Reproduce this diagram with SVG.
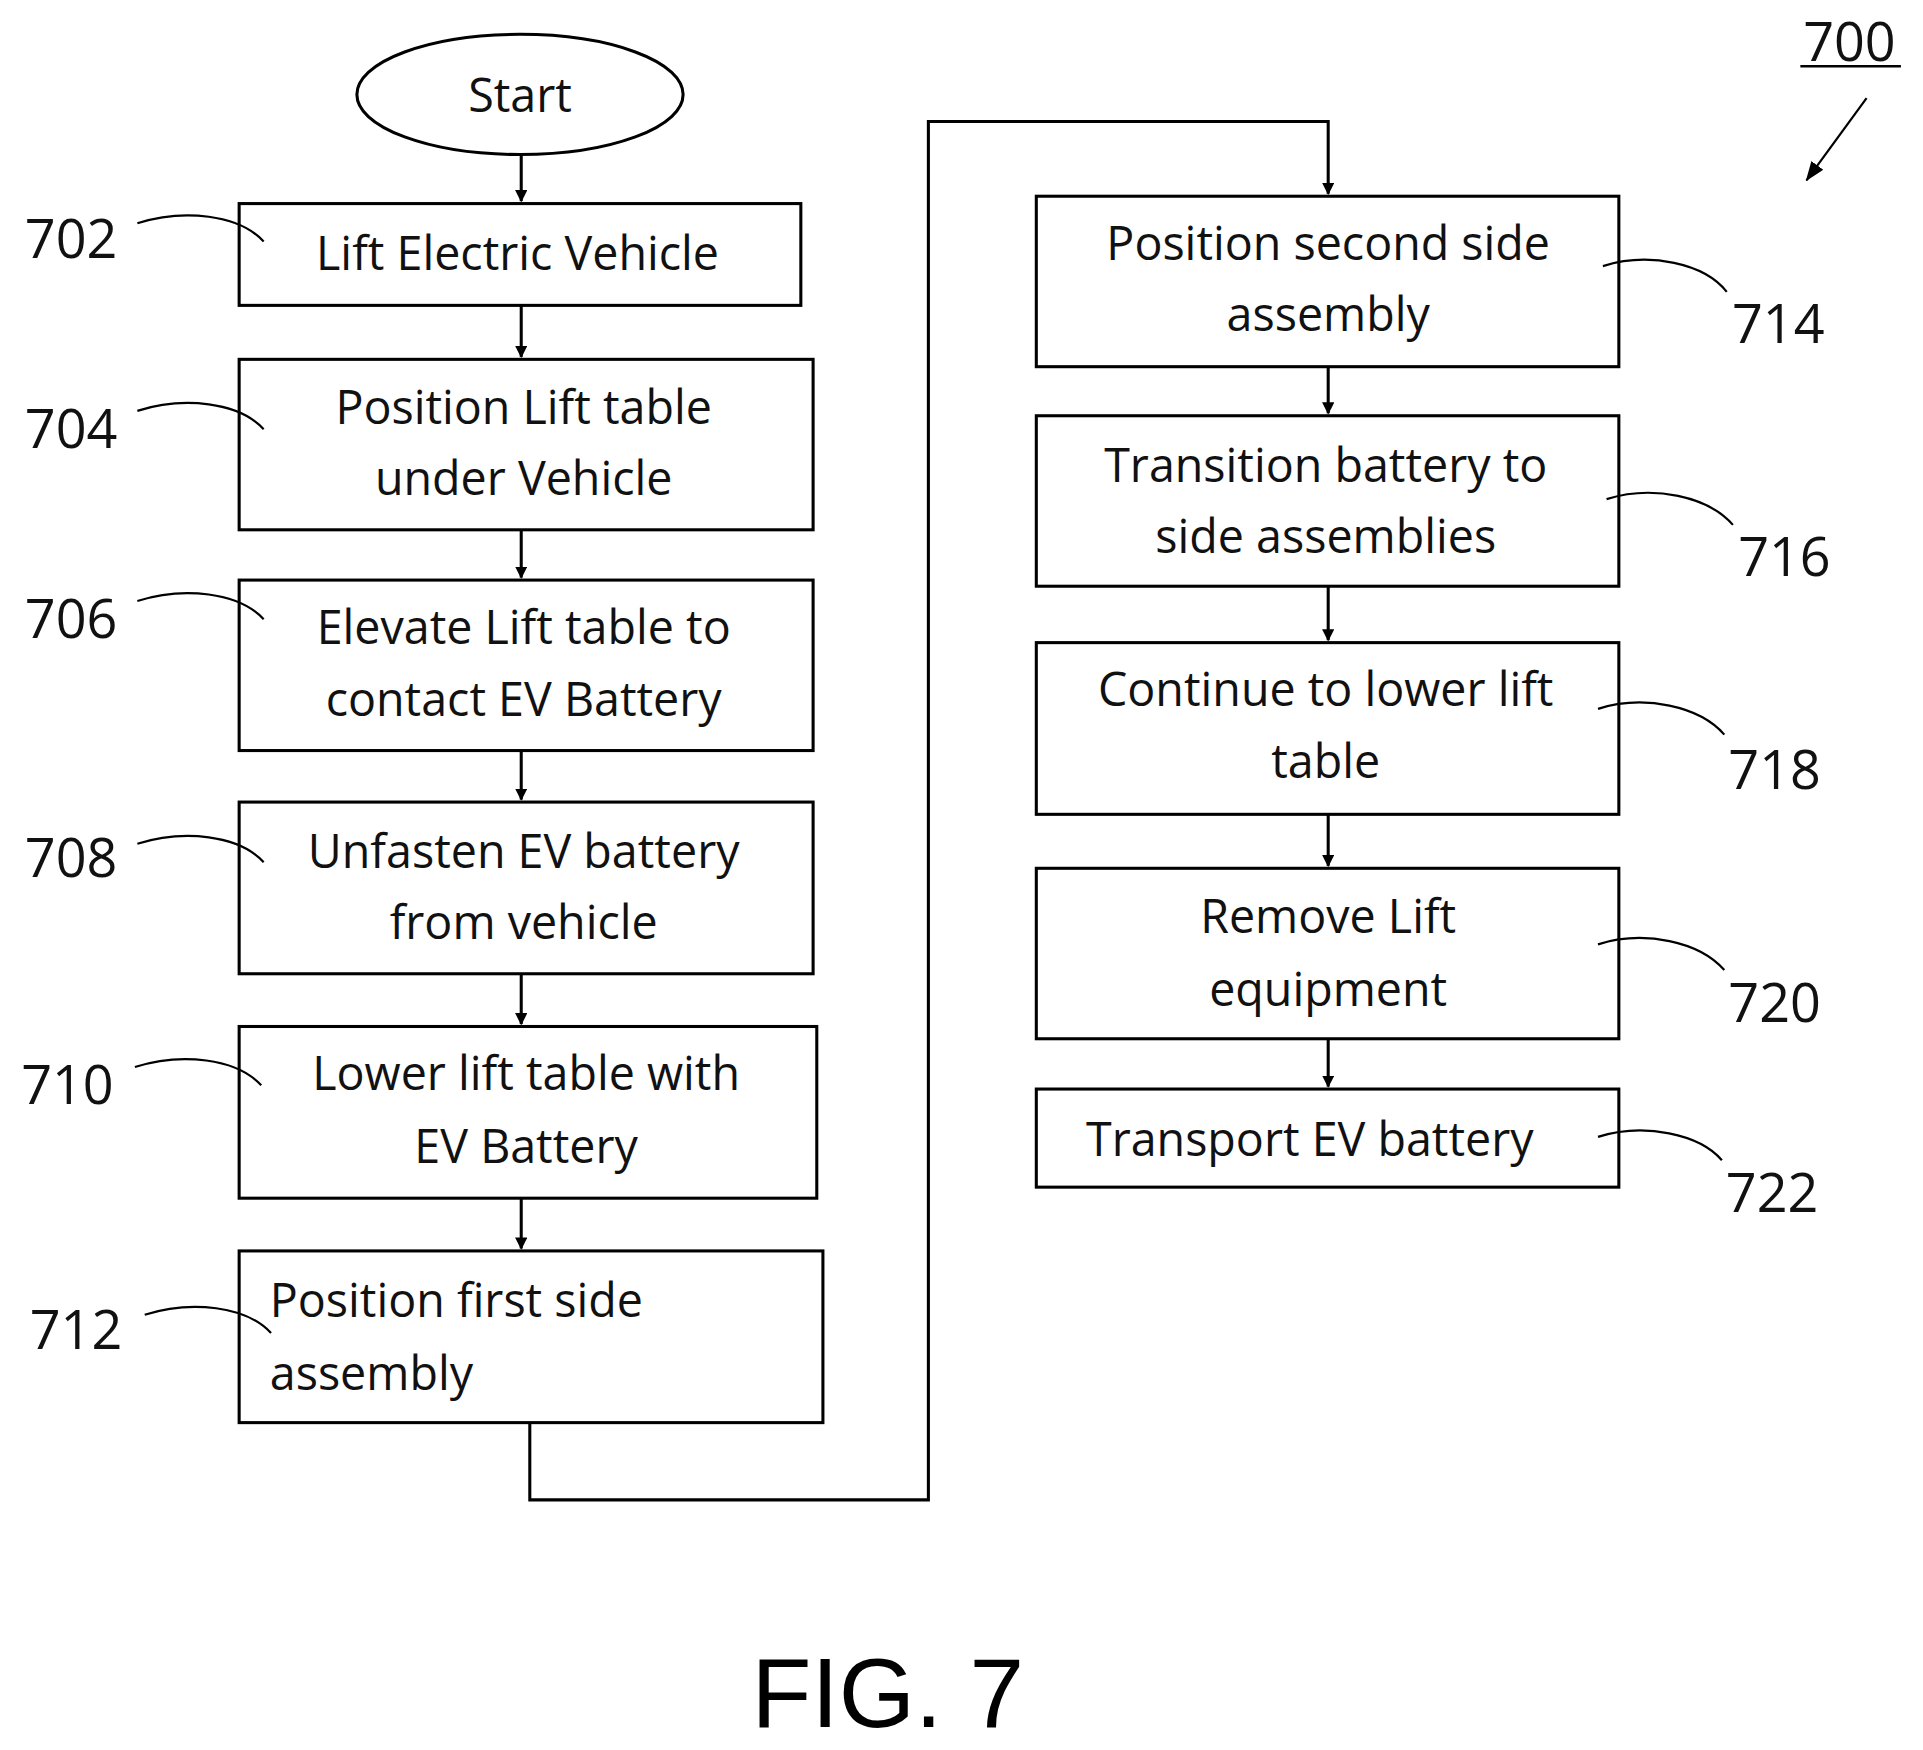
<svg xmlns="http://www.w3.org/2000/svg" width="1923" height="1750" viewBox="0 0 1923 1750">
<style>
.b{fill:#fff;stroke:#000;stroke-width:2.5}
.t{font-family:"Open Sans","Liberation Sans",sans-serif;font-size:38px;text-anchor:middle;fill:#111}
.l{font-family:"Open Sans","Liberation Sans",sans-serif;font-size:44px;text-anchor:middle;fill:#111}
.c{fill:none;stroke:#000;stroke-width:2.5}
.q{fill:none;stroke:#000;stroke-width:1.8}
</style>
<defs><marker id="a" markerWidth="10" markerHeight="10" refX="9" refY="5" orient="auto" markerUnits="userSpaceOnUse" viewBox="0 0 10 10"><path d="M0,0L10,5L0,10z" fill="#000"/></marker>
<marker id="m" markerWidth="16" markerHeight="16" refX="15" refY="8" orient="auto" markerUnits="userSpaceOnUse" viewBox="0 0 16 16"><path d="M0,2L16,8L0,14z" fill="#000"/></marker></defs>
<rect width="1923" height="1750" fill="#fff"/>
<g transform="scale(1.2264)">
<g id="start"><ellipse cx="424" cy="77" rx="133" ry="49" class="b"/><text class="t" x="424" y="91">Start</text></g>
<g id="n702"><rect class="b" x="195" y="166" width="458" height="83"/><text class="t" x="422" y="220">Lift Electric Vehicle</text></g>
<g id="n704"><rect class="b" x="195" y="293" width="468" height="139"/><text class="t" x="427" y="346">Position Lift table</text><text class="t" x="427" y="404">under Vehicle</text></g>
<g id="n706"><rect class="b" x="195" y="473" width="468" height="139"/><text class="t" x="427" y="525">Elevate Lift table to</text><text class="t" x="427" y="584">contact EV Battery</text></g>
<g id="n708"><rect class="b" x="195" y="654" width="468" height="140"/><text class="t" x="427" y="708">Unfasten EV battery</text><text class="t" x="427" y="766">from vehicle</text></g>
<g id="n710"><rect class="b" x="195" y="837" width="471" height="140"/><text class="t" x="429" y="889">Lower lift table with</text><text class="t" x="429" y="948">EV Battery</text></g>
<g id="n712"><rect class="b" x="195" y="1020" width="476" height="140"/><text class="t" x="220" y="1074" style="text-anchor:start">Position first side</text><text class="t" x="220" y="1133" style="text-anchor:start">assembly</text></g>
<g id="n714"><rect class="b" x="845" y="160" width="475" height="139"/><text class="t" x="1083" y="212">Position second side</text><text class="t" x="1083" y="270">assembly</text></g>
<g id="n716"><rect class="b" x="845" y="339" width="475" height="139"/><text class="t" x="1081" y="393">Transition battery to</text><text class="t" x="1081" y="451">side assemblies</text></g>
<g id="n718"><rect class="b" x="845" y="524" width="475" height="140"/><text class="t" x="1081" y="576">Continue to lower lift</text><text class="t" x="1081" y="634">table</text></g>
<g id="n720"><rect class="b" x="845" y="708" width="475" height="139"/><text class="t" x="1083" y="761">Remove Lift</text><text class="t" x="1083" y="820">equipment</text></g>
<g id="n722"><rect class="b" x="845" y="888" width="475" height="80"/><text class="t" x="1068" y="943">Transport EV battery</text></g>
<g id="connectors">
<path class="c" marker-end="url(#a)" d="M425,127V164"/>
<path class="c" marker-end="url(#a)" d="M425,249V291"/>
<path class="c" marker-end="url(#a)" d="M425,432V471"/>
<path class="c" marker-end="url(#a)" d="M425,612V652"/>
<path class="c" marker-end="url(#a)" d="M425,794V835"/>
<path class="c" marker-end="url(#a)" d="M425,977V1018"/>
<path class="c" marker-end="url(#a)" d="M432,1160V1223H757V99H1083V158"/>
<path class="c" marker-end="url(#a)" d="M1083,299V337"/>
<path class="c" marker-end="url(#a)" d="M1083,478V522"/>
<path class="c" marker-end="url(#a)" d="M1083,664V706"/>
<path class="c" marker-end="url(#a)" d="M1083,847V886"/>
</g>
<g id="labels">
<text class="l" x="58" y="210">702</text><path class="q" d="M112,182C150,170 195,175 215,197"/>
<text class="l" x="58" y="365">704</text><path class="q" d="M112,335C150,323 195,328 215,350"/>
<text class="l" x="58" y="520">706</text><path class="q" d="M112,490C150,478 195,483 215,505"/>
<text class="l" x="58" y="715">708</text><path class="q" d="M112,688C150,676 195,681 215,703"/>
<text class="l" x="55" y="900">710</text><path class="q" d="M110,870C148,858 193,863 213,885"/>
<text class="l" x="62" y="1100">712</text><path class="q" d="M118,1072C156,1060 201,1065 221,1087"/>
<text class="l" x="1450" y="280">714</text><path class="q" d="M1307,217C1345,205 1390,215 1408,238"/>
<text class="l" x="1455" y="470">716</text><path class="q" d="M1310,407C1348,395 1393,405 1413,428"/>
<text class="l" x="1447" y="643">718</text><path class="q" d="M1303,578C1341,566 1386,576 1406,599"/>
<text class="l" x="1447" y="833">720</text><path class="q" d="M1303,770C1341,758 1386,768 1406,791"/>
<text class="l" x="1445" y="988">722</text><path class="q" d="M1303,927C1341,915 1386,925 1404,946"/>
<text class="l" x="1508" y="50">700</text><path d="M1468,54H1550" stroke="#000" stroke-width="2"/>
<path class="q" marker-end="url(#m)" stroke-width="2.5" d="M1522,80L1473,147"/>
</g>
<text x="724" y="1408" style="font-family:'Liberation Sans',Arial,sans-serif;font-size:80px;text-anchor:middle">FIG. 7</text>
</g>
</svg>
